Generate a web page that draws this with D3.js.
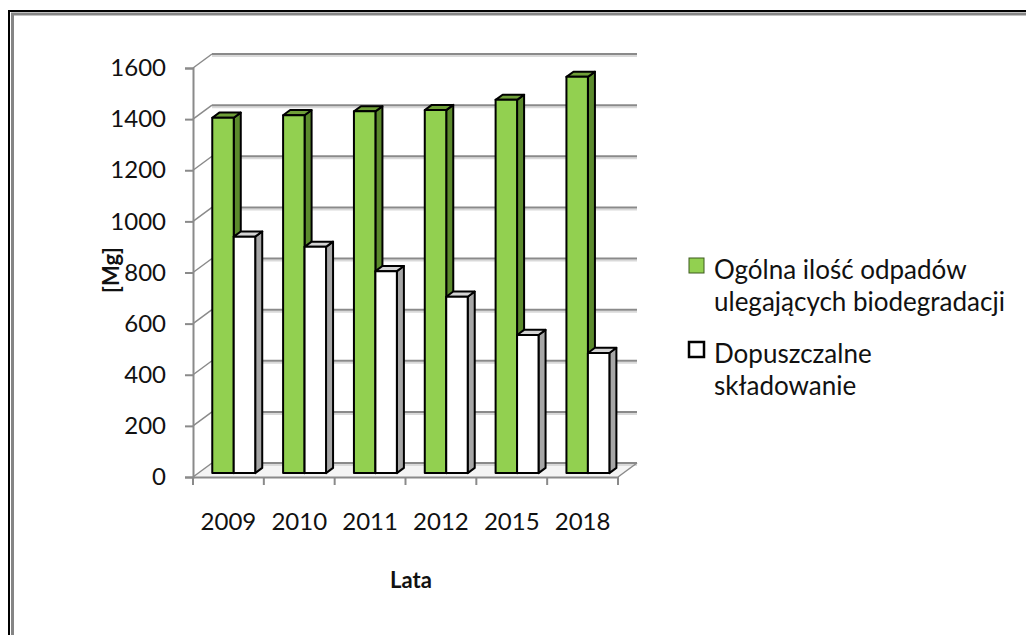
<!DOCTYPE html>
<html>
<head>
<meta charset="utf-8">
<script src="https://cdn.jsdelivr.net/npm/d3@7"></script>
<style>
  html, body { margin: 0; padding: 0; background: #fff; }
  svg { display: block; }
  text { font-family: Lato, "Open Sans", sans-serif; fill: #111; }
</style>
</head>
<body>
<svg id="chart" width="1026" height="635"></svg>
<script>
// ---- data ----
const years = ["2009", "2010", "2011", "2012", "2015", "2018"];
const totalWaste = [1390, 1400, 1415, 1420, 1460, 1550];
const allowedLandfill = [925, 885, 790, 690, 540, 470];
const yTicks = [0, 200, 400, 600, 800, 1000, 1200, 1400, 1600];
const seriesNames = ["Ogólna ilość odpadów ulegających biodegradacji", "Dopuszczalne składowanie"];
const legendLines = [["Ogólna ilość odpadów", "ulegających biodegradacji"], ["Dopuszczalne", "składowanie"]];
const yTitle = "[Mg]";
const xTitle = "Lata";

// ---- layout ----
const svg = d3.select("#chart");
const W = 1026, H = 635;
const DX = 19, DY = 14;           // depth offset of the back wall
const Z0 = 0.28, Z1 = 0.65;       // bar depth (fraction of full depth)

const y = d3.scaleLinear().domain([0, 1600]).range([477, 68]);
const x = d3.scaleBand().domain(years).range([193, 618]).paddingInner(0).paddingOuter(0);
const sub = d3.scaleBand().domain(["total", "allowed"]).range([0, x.bandwidth()]).paddingInner(0).paddingOuter(0.65);

const proj = (xf, v, z) => [xf + z * DX, y(v) - z * DY];

// frame
svg.append("rect").attr("x", 9).attr("y", 11).attr("width", W + 40).attr("height", H + 40)
  .attr("fill", "none").attr("stroke", "#000").attr("stroke-width", 2);
svg.append("rect").attr("x", 12.5).attr("y", 14).attr("width", W + 40).attr("height", H + 40)
  .attr("fill", "none").attr("stroke", "#858585").attr("stroke-width", 3);

const grid = svg.append("g");
const x0 = x.range()[0], x1 = x.range()[1];
const line = d3.line();

// floor (light)
grid.append("path")
  .attr("d", line([proj(x0, 0, 0), proj(x1, 0, 0), proj(x1, 0, 1), proj(x0, 0, 1)]) + "Z")
  .attr("fill", "#f4f4f4").attr("stroke", "none");

// gridlines on the back wall + left wall diagonals
yTicks.forEach(t => {
  const a = proj(x0, t, 1), b = proj(x1, t, 1);
  grid.append("line").attr("x1", a[0]).attr("y1", a[1] + 2).attr("x2", b[0]).attr("y2", b[1] + 2)
    .attr("stroke", "#d9d9d9").attr("stroke-width", 2);
  grid.append("line").attr("x1", a[0]).attr("y1", a[1]).attr("x2", b[0]).attr("y2", b[1])
    .attr("stroke", "#8a8a8a").attr("stroke-width", 2);
  const f = proj(x0, t, 0);
  grid.append("line").attr("x1", f[0]).attr("y1", f[1]).attr("x2", a[0]).attr("y2", a[1])
    .attr("stroke", "#8a8a8a").attr("stroke-width", 1.5);
});
// floor right diagonal
{
  const a = proj(x1, 0, 0), b = proj(x1, 0, 1);
  grid.append("line").attr("x1", a[0]).attr("y1", a[1]).attr("x2", b[0]).attr("y2", b[1])
    .attr("stroke", "#8a8a8a").attr("stroke-width", 1.5);
}

// y axis (front)
const yAxis = d3.axisLeft(y).tickValues(yTicks).tickSize(8).tickPadding(19).tickFormat(d3.format("d"));
const gy = svg.append("g").attr("transform", `translate(${x0},0)`).call(yAxis);
gy.select(".domain").attr("stroke", "#8a8a8a").attr("stroke-width", 2);
gy.selectAll(".tick line").attr("stroke", "#8a8a8a").attr("stroke-width", 2);
gy.selectAll(".tick text").attr("font-size", 24).attr("font-family", "Lato").attr("fill", "#111");

// x axis (front)
const xAxis = d3.axisBottom(x).tickSize(0).tickPadding(36);
const gx = svg.append("g").attr("transform", `translate(0,${y(0)})`).call(xAxis);
gx.select(".domain").attr("stroke", "#8a8a8a").attr("stroke-width", 2);
gx.selectAll(".tick text").attr("font-size", 24).attr("font-family", "Lato").attr("fill", "#111");
// category boundary ticks
const bounds = years.map(d => x(d)).concat([x1]);
gx.selectAll(".btick").data(bounds).join("line").attr("class", "btick")
  .attr("x1", d => d).attr("x2", d => d).attr("y1", 0).attr("y2", 8)
  .attr("stroke", "#8a8a8a").attr("stroke-width", 2);

// bars
const styles = {
  total: { front: "#92d050", side: "#5b8a2c", top: "#6f9f38" },
  allowed: { front: "#ffffff", side: "#a6a6a6", top: "#d4d4d4" }
};
const barsG = svg.append("g");
years.forEach((yr, i) => {
  [["total", totalWaste[i]], ["allowed", allowedLandfill[i]]].forEach(([key, v]) => {
    const xa = x(yr) + sub(key), xb = xa + sub.bandwidth();
    const st = styles[key];
    const g = barsG.append("g").attr("stroke", "#000").attr("stroke-width", 2).attr("stroke-linejoin", "round");
    // side
    g.append("path").attr("d", line([proj(xb, 0, Z0), proj(xb, v, Z0), proj(xb, v, Z1), proj(xb, 0, Z1)]) + "Z")
      .attr("fill", st.side);
    // top
    g.append("path").attr("d", line([proj(xa, v, Z0), proj(xb, v, Z0), proj(xb, v, Z1), proj(xa, v, Z1)]) + "Z")
      .attr("fill", st.top);
    // front
    g.append("path").attr("d", line([proj(xa, 0, Z0), proj(xb, 0, Z0), proj(xb, v, Z0), proj(xa, v, Z0)]) + "Z")
      .attr("fill", st.front);
  });
});

// axis titles
svg.append("text").attr("transform", "translate(119,270) rotate(-90)")
  .attr("text-anchor", "middle").attr("font-size", 22).attr("font-weight", "bold").text(yTitle);
svg.append("text").attr("x", 411).attr("y", 588)
  .attr("text-anchor", "middle").attr("font-size", 22).attr("font-weight", "bold").text(xTitle);

// legend
const leg = svg.append("g");
const legY = [258, 342];
["total", "allowed"].forEach((key, i) => {
  leg.append("rect").attr("x", 689).attr("y", legY[i]).attr("width", 15).attr("height", 15)
    .attr("fill", styles[key].front).attr("stroke", key === "total" ? "#3c5a1e" : "#000").attr("stroke-width", key === "total" ? 1 : 2.5);
  legendLines[i].forEach((ln, j) => {
    leg.append("text").attr("x", 714).attr("y", legY[i] + 21 + j * 32)
      .attr("font-size", 26).text(ln);
  });
});
</script>
</body>
</html>
